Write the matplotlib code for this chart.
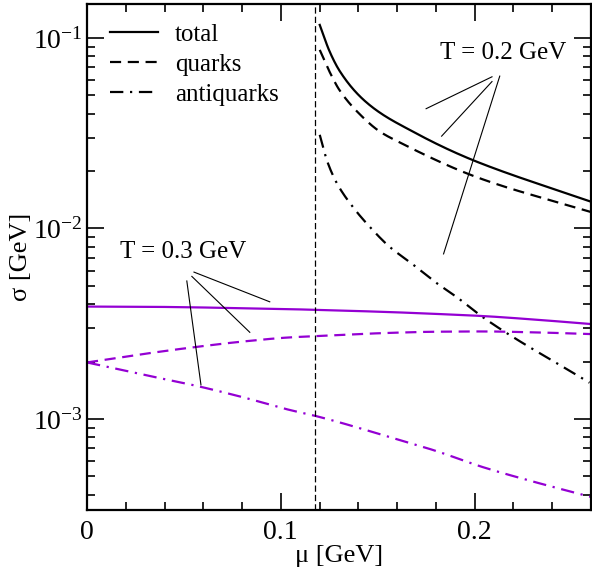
import matplotlib
matplotlib.use("Agg")
import matplotlib.pyplot as plt
from matplotlib.ticker import MultipleLocator, LogLocator, NullFormatter
import numpy as np

plt.rcParams['font.family'] = ['Liberation Serif', 'DejaVu Serif']
plt.rcParams['mathtext.fontset'] = 'custom'
plt.rcParams['mathtext.rm'] = 'Liberation Serif'
plt.rcParams['mathtext.it'] = 'Liberation Serif:italic'

purple = '#9400d3'
mu_c = 0.1175  # critical chemical potential (vertical marker)

# T = 0.2 GeV curves, only above mu_c
mu_02_tot = [0.1201, 0.1253, 0.1304, 0.1407, 0.151, 0.1665, 0.1871, 0.2026, 0.2593]
tot_02 = [0.117, 0.0844, 0.0670, 0.0495, 0.0406, 0.0329, 0.0258, 0.0221, 0.0139]
mu_02_q = [0.1201, 0.1253, 0.1304, 0.1407, 0.151, 0.161, 0.2010, 0.26]
qrk_02 = [0.0865, 0.0660, 0.0530, 0.0398, 0.0323, 0.0284, 0.0186, 0.0122]
mu_02_a = [0.1201, 0.1237, 0.1289, 0.1371, 0.1459, 0.1562, 0.1665, 0.1804, 0.1907, 0.2041, 0.2593]
aqk_02 = [0.031, 0.0229, 0.0173, 0.0130, 0.0102, 0.0080, 0.00667, 0.00517, 0.00437, 0.00343, 0.00155]

# T = 0.3 GeV curves
mu_03 = [0.0, 0.03, 0.058, 0.0805, 0.1046, 0.1175, 0.156, 0.180, 0.204, 0.230, 0.26]
tot_03 = [0.00389, 0.00388, 0.00385, 0.00381, 0.00377, 0.00374, 0.00364, 0.00356, 0.00347, 0.00333, 0.00315]
qrk_03 = [0.00198, 0.00220, 0.00240, 0.00255, 0.00268, 0.00272, 0.00283, 0.00287, 0.00288, 0.00285, 0.00279]
aqk_03 = [0.00198, 0.00170, 0.00148, 0.00130, 0.001115, 0.00104, 0.000805, 0.00068, 0.00056, 0.00047, 0.00039]


def pchip(x, y, n=300):
    # monotone cubic through the points, done in log(y)
    x = np.asarray(x, float)
    ly = np.log(np.asarray(y, float))
    h = np.diff(x)
    d = np.diff(ly) / h
    m = np.zeros_like(x)
    for i in range(1, len(x) - 1):
        if d[i - 1] * d[i] > 0:
            w1 = 2 * h[i] + h[i - 1]
            w2 = h[i] + 2 * h[i - 1]
            m[i] = (w1 + w2) / (w1 / d[i - 1] + w2 / d[i])
    m[0] = d[0]
    m[-1] = d[-1]
    xs = np.linspace(x[0], x[-1], n)
    k = np.clip(np.searchsorted(x, xs) - 1, 0, len(x) - 2)
    t = (xs - x[k]) / h[k]
    h00 = 2 * t**3 - 3 * t**2 + 1
    h10 = t**3 - 2 * t**2 + t
    h01 = -2 * t**3 + 3 * t**2
    h11 = t**3 - t**2
    ys = h00 * ly[k] + h10 * h[k] * m[k] + h01 * ly[k + 1] + h11 * h[k] * m[k + 1]
    return xs, np.exp(ys)


fig = plt.figure(figsize=(5.92, 5.73), dpi=100)
ax = fig.add_axes([0.147, 0.110, 0.851, 0.883])

lw = 1.6
dash = (0, (5, 3))
dashdot = (0, (6, 3, 1, 3))
ax.plot(*pchip(mu_02_tot, tot_02), color='black', lw=lw, label='total')
ax.plot(*pchip(mu_02_q, qrk_02), color='black', lw=lw, ls=dash, label='quarks')
ax.plot(*pchip(mu_02_a, aqk_02), color='black', lw=lw, ls=dashdot, label='antiquarks')

ax.plot(*pchip(mu_03, tot_03), color=purple, lw=lw)
ax.plot(*pchip(mu_03, qrk_03), color=purple, lw=lw, ls=dash)
ax.plot(*pchip(mu_03, aqk_03), color=purple, lw=lw, ls=dashdot)

ax.axvline(mu_c, color='black', lw=0.9, ls=(0, (5, 2.5)))

ax.set_yscale('log')
ax.set_xlim(0, 0.26)
ax.set_ylim(3.33e-4, 0.1506)

ax.xaxis.set_minor_locator(MultipleLocator(0.02))
ax.set_xticks([0, 0.1, 0.2])
ax.set_xticklabels(['0', '0.1', '0.2'])
ax.yaxis.set_minor_locator(LogLocator(base=10, subs=np.arange(2, 10), numticks=10))
ax.yaxis.set_minor_formatter(NullFormatter())
ax.set_yticks([1e-3, 1e-2, 1e-1])
ax.set_yticklabels([r'$\mathregular{10^{-3}}$', r'$\mathregular{10^{-2}}$', r'$\mathregular{10^{-1}}$'])

ax.tick_params(which='both', direction='in', top=True, right=True, labelsize=20, width=1.2)
ax.tick_params(which='major', length=12)
ax.tick_params(which='minor', length=6)
ax.tick_params(axis='y', which='major', pad=3)
ax.tick_params(axis='x', which='major', pad=7)
for s in ax.spines.values():
    s.set_linewidth(1.6)

ax.set_xlabel('μ [GeV]', fontsize=19, labelpad=0)
ax.set_ylabel('σ [GeV]', fontsize=19)
ax.yaxis.set_label_coords(-0.109, 0.5)

ax.legend(loc='upper left', fontsize=18, frameon=False, handlelength=1.92,
          handletextpad=0.68, labelspacing=0.3, borderaxespad=0.0,
          bbox_to_anchor=(0.026, 0.982))

# annotation labels with pointer lines (data coordinates)
ax.text(0.215, 0.083, 'T = 0.2 GeV', fontsize=18, ha='center', va='center')
for (x0, y0), (x1, y1) in [((0.209, 0.0625), (0.175, 0.0425)),
                           ((0.209, 0.059), (0.183, 0.0305)),
                           ((0.213, 0.063), (0.184, 0.00735))]:
    ax.plot([x0, x1], [y0, y1], color='black', lw=0.8)

ax.text(0.0495, 0.0075, 'T = 0.3 GeV', fontsize=18, ha='center', va='center')
for (x0, y0), (x1, y1) in [((0.0552, 0.0059), (0.0943, 0.00412)),
                           ((0.0541, 0.0056), (0.0840, 0.00285)),
                           ((0.0515, 0.0053), (0.0588, 0.00151))]:
    ax.plot([x0, x1], [y0, y1], color='black', lw=0.8)

fig.savefig('out.png', dpi=100)
